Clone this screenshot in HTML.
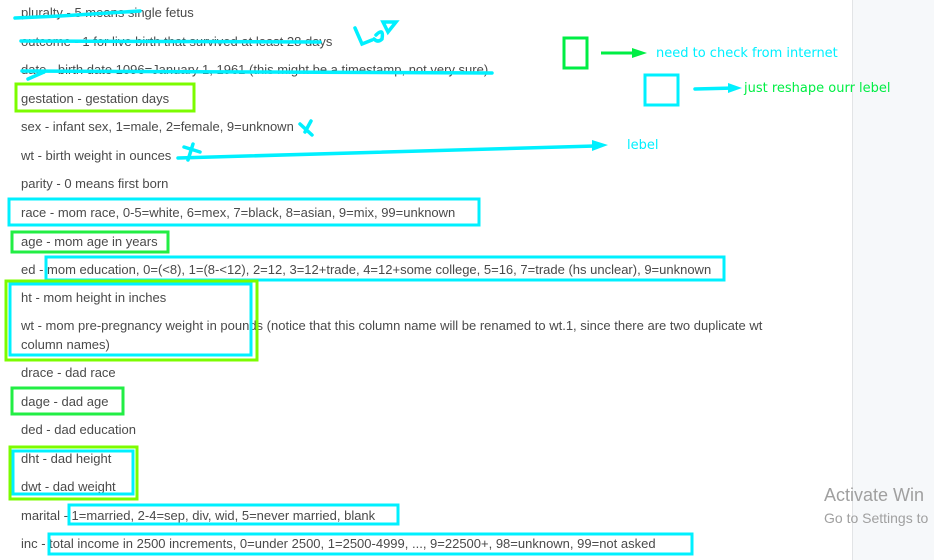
<!DOCTYPE html>
<html><head><meta charset="utf-8"><style>
html,body{margin:0;padding:0}
body{width:934px;height:560px;position:relative;overflow:hidden;background:#fff;font-family:"Liberation Sans",sans-serif}
.t{position:absolute;left:21px;font-size:13px;line-height:16px;color:#4a4a4a;white-space:nowrap}
#panel{position:absolute;left:852px;top:0;width:81px;height:560px;background:#f6f8fa;border-left:1px solid #e2e4e6}
svg{position:absolute;left:0;top:0}
.aw{position:absolute;left:824px;color:#a0a0a0;white-space:nowrap;overflow:hidden;width:110px}
</style></head><body>
<div id="panel"></div>
<div class="t" style="top:5px">pluralty - 5 means single fetus</div>
<div class="t" style="top:34px">outcome - 1 for live birth that survived at least 28 days</div>
<div class="t" style="top:62px">date - birth date 1096=January 1, 1961 (this might be a timestamp, not very sure)</div>
<div class="t" style="top:91px">gestation - gestation days</div>
<div class="t" style="top:119px">sex - infant sex, 1=male, 2=female, 9=unknown</div>
<div class="t" style="top:148px">wt - birth weight in ounces</div>
<div class="t" style="top:176px">parity - 0 means first born</div>
<div class="t" style="top:205px">race - mom race, 0-5=white, 6=mex, 7=black, 8=asian, 9=mix, 99=unknown</div>
<div class="t" style="top:234px">age - mom age in years</div>
<div class="t" style="top:262px">ed - mom education, 0=(&lt;8), 1=(8-&lt;12), 2=12, 3=12+trade, 4=12+some college, 5=16, 7=trade (hs unclear), 9=unknown</div>
<div class="t" style="top:290px">ht - mom height in inches</div>
<div class="t" style="top:318px">wt - mom pre-pregnancy weight in pounds (notice that this column name will be renamed to wt.1, since there are two duplicate wt</div>
<div class="t" style="top:337px">column names)</div>
<div class="t" style="top:365px">drace - dad race</div>
<div class="t" style="top:394px">dage - dad age</div>
<div class="t" style="top:422px">ded - dad education</div>
<div class="t" style="top:451px">dht - dad height</div>
<div class="t" style="top:479px">dwt - dad weight</div>
<div class="t" style="top:508px">marital - 1=married, 2-4=sep, div, wid, 5=never married, blank</div>
<div class="t" style="top:536px">inc - total income in 2500 increments, 0=under 2500, 1=2500-4999, ..., 9=22500+, 98=unknown, 99=not asked</div>
<div class="aw" style="top:485px;font-size:18px">Activate Win</div>
<div class="aw" style="top:510px;font-size:14px">Go to Settings to</div>
<svg width="934" height="560" viewBox="0 0 934 560">
<g fill="none" stroke-width="3">
<rect x="16" y="84" width="178" height="27" stroke="#7cfc00"/>
<rect x="9" y="199" width="470" height="26" stroke="#00f0ff"/>
<rect x="12" y="232" width="156" height="20" stroke="#22ee44"/>
<rect x="46" y="257" width="678" height="23" stroke="#00f0ff"/>
<rect x="6" y="281" width="251" height="79" stroke="#7cfc00"/>
<rect x="10" y="284" width="241" height="71" stroke="#00f0ff"/>
<rect x="12" y="388" width="111" height="26" stroke="#22ee44"/>
<rect x="10" y="447" width="127" height="52" stroke="#7cfc00"/>
<rect x="13" y="451" width="120" height="43" stroke="#00f0ff"/>
<rect x="69" y="505" width="329" height="19" stroke="#00f0ff"/>
<rect x="49" y="534" width="643" height="20" stroke="#00f0ff"/>
<rect x="564" y="38" width="23" height="30" stroke="#00ee44"/>
<rect x="645" y="75" width="33" height="30" stroke="#00f0ff"/>
</g>
<g stroke="#00f0ff" stroke-width="3.5" fill="none" stroke-linecap="round">
<path d="M15 18 L60 16 L140 11"/>
<path d="M21 41 L320 42"/>
<path d="M22 71 L492 73"/>
<path d="M28 79 L44 72"/>
<path d="M355 28 L362 44 L372 40"/>
<path d="M376 35 q8 -8 6 4 q-4 4 -8 0"/>
<path d="M383 22 L396 22 L388 32 Z"/>
<path d="M300 124 L312 135 M311 121 L305 132"/>
<path d="M184 147 L200 152 M193 144 L188 160"/>
<path d="M178 158 L595 146"/>
<path d="M695 89 L735 88"/>
</g>
<path d="M608 145 L592 140 L592 151 Z" fill="#00f0ff"/>
<path d="M742 88 L728 83 L728 93 Z" fill="#00f0ff"/>
<path d="M601 53 L637 53" stroke="#00ee44" stroke-width="3"/>
<path d="M647 53 L632 48 L632 58 Z" fill="#00ee44"/>
<text x="656" y="57" font-family="DejaVu Sans, sans-serif" font-size="13" fill="#00f0ff">need to check from internet</text>
<text x="744" y="92" font-family="DejaVu Sans, sans-serif" font-size="13" fill="#00ee44">just reshape ourr lebel</text>
<text x="627" y="149" font-family="DejaVu Sans, sans-serif" font-size="13" fill="#00f0ff">lebel</text>
</svg>
</body></html>
